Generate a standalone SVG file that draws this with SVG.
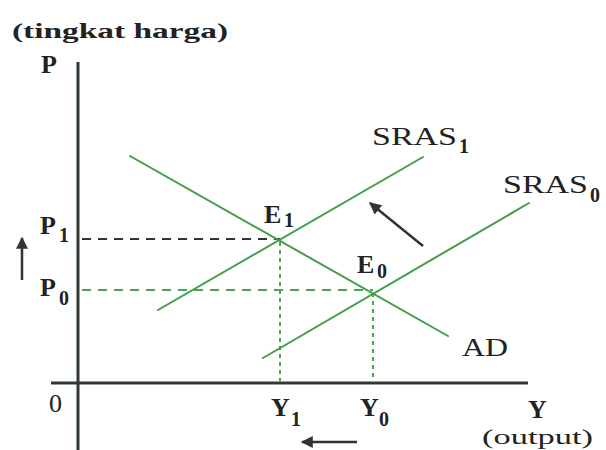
<svg xmlns="http://www.w3.org/2000/svg" width="606" height="450" viewBox="0 0 606 450">
<defs>
<style>
.t{font-family:"Liberation Serif","DejaVu Serif",serif;fill:#222;}
.lab{font-size:26px;}
.sub{font-size:20px;font-weight:bold;}
.curve{stroke:#3f9e48;stroke-width:2;fill:none;stroke-linecap:round;}
.axis{stroke:#2e3a2e;stroke-width:3;fill:none;}
.dk{stroke:#333;stroke-width:2;stroke-dasharray:9 7;fill:none;}
.gd{stroke:#4aa552;stroke-width:2;stroke-dasharray:9 7;fill:none;}
.gv{stroke:#4aa552;stroke-width:2;stroke-dasharray:4 4;fill:none;}
.arr{stroke:#333;stroke-width:2.5;fill:none;}
</style>
<marker id="ah" viewBox="0 0 10 10" refX="9" refY="5" markerWidth="14" markerHeight="12" orient="auto-start-reverse" markerUnits="userSpaceOnUse">
<path d="M0,0 L10,5 L0,10 z" fill="#333"/>
</marker>
</defs>
<rect width="606" height="450" fill="#fff"/>

<g id="axes">
<line class="axis" x1="78" y1="62" x2="78" y2="450"/>
<line class="axis" x1="51" y1="383" x2="528" y2="383"/>
</g>

<g id="connectors">
<line class="dk" x1="82" y1="239" x2="280" y2="239"/>
<line class="gd" x1="82" y1="290" x2="373" y2="290"/>
<line class="gv" x1="280" y1="242" x2="280" y2="381"/>
<line class="gv" x1="373" y1="293" x2="373" y2="381"/>
<line class="arr" x1="22" y1="280" x2="22" y2="238" marker-end="url(#ah)"/>
<line class="arr" x1="357" y1="442" x2="302" y2="442" marker-end="url(#ah)"/>
<line class="arr" x1="423" y1="246" x2="370" y2="203" marker-end="url(#ah)"/>
</g>

<g id="AD">
<line class="curve" x1="130" y1="156" x2="448" y2="336"/>
<text class="t lab" x="462" y="356" textLength="46" lengthAdjust="spacingAndGlyphs">AD</text>
</g>
<g id="SRAS1">
<line class="curve" x1="158" y1="310" x2="423" y2="157"/>
<text class="t lab" x="372" y="145" textLength="85" lengthAdjust="spacingAndGlyphs">SRAS</text>
<text class="t sub" x="459" y="153">1</text>
</g>
<g id="SRAS0">
<line class="curve" x1="263" y1="358" x2="529" y2="203"/>
<text class="t lab" x="503" y="193" textLength="85" lengthAdjust="spacingAndGlyphs">SRAS</text>
<text class="t sub" x="590" y="202">0</text>
</g>

<g id="E1">
<text class="t lab" x="264" y="223" style="font-weight:bold">E</text>
<text class="t sub" x="284" y="227">1</text>
</g>
<g id="E0">
<text class="t lab" x="357" y="273" style="font-weight:bold">E</text>
<text class="t sub" x="377" y="278">0</text>
</g>

<g id="labels">
<text class="t" x="12" y="38" style="font-size:22px;font-weight:bold" textLength="216" lengthAdjust="spacingAndGlyphs">(tingkat harga)</text>
<text class="t lab" x="41" y="73" style="font-weight:bold">P</text>
<text class="t lab" x="40" y="234" style="font-weight:bold">P</text>
<text class="t sub" x="59" y="242">1</text>
<text class="t lab" x="40" y="296" style="font-weight:bold">P</text>
<text class="t sub" x="59" y="305">0</text>
<text class="t lab" x="49" y="412">0</text>
<text class="t lab" x="271" y="416" style="font-weight:bold">Y</text>
<text class="t sub" x="291" y="426">1</text>
<text class="t lab" x="360" y="416" style="font-weight:bold">Y</text>
<text class="t sub" x="379" y="426">0</text>
<text class="t lab" x="528" y="418" style="font-weight:bold">Y</text>
<text class="t" x="482" y="444" style="font-size:20px" textLength="111" lengthAdjust="spacingAndGlyphs">(output)</text>
</g>
</svg>
